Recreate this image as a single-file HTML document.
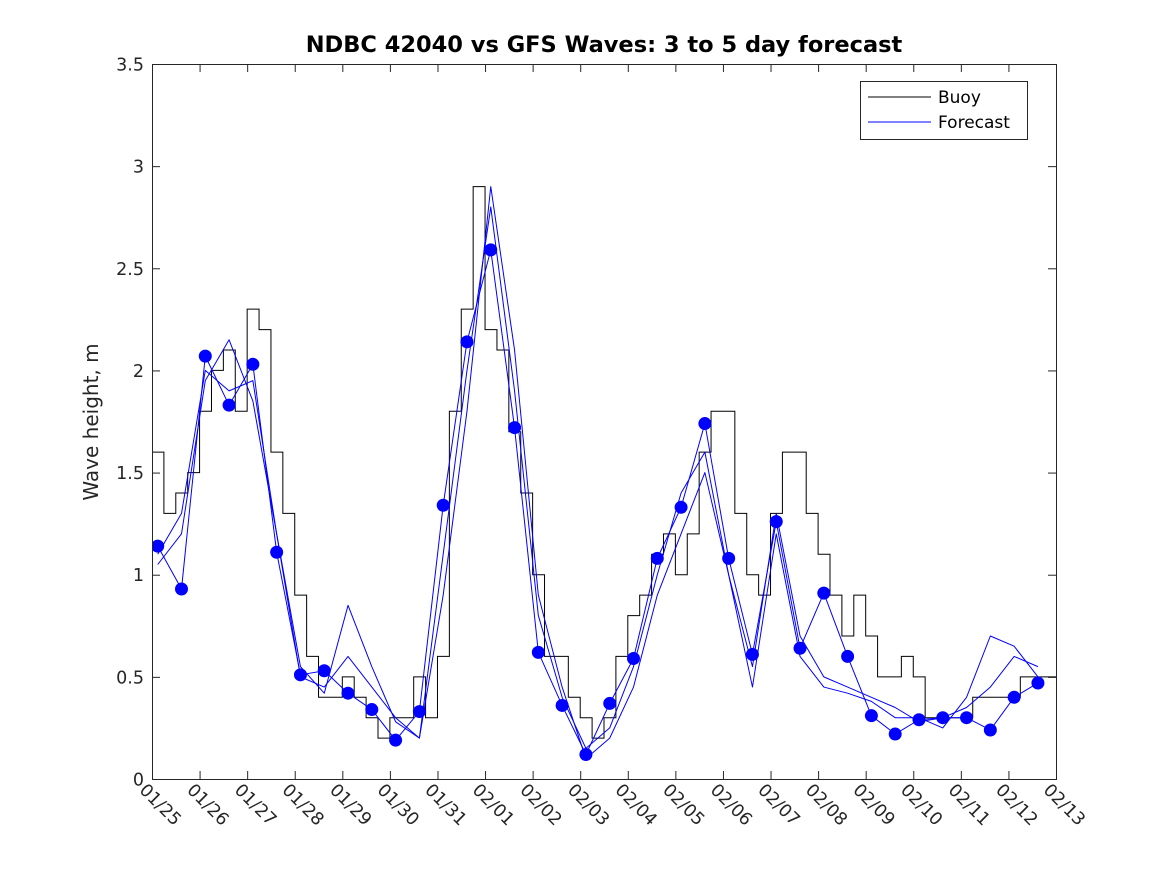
<!DOCTYPE html>
<html><head><meta charset="utf-8">
<style>body{margin:0;background:#fff}svg{display:block;font-family:"DejaVu Sans","Liberation Sans",sans-serif}</style>
</head><body>
<svg id="chart" width="1167" height="875" xmlns="http://www.w3.org/2000/svg">
<defs><clipPath id="clip"><rect x="152" y="64" width="905" height="716"/></clipPath></defs>
<rect width="1167" height="875" fill="#fff"/>
<text x="604" y="52" text-anchor="middle" font-size="22.5" font-weight="bold" fill="#000">NDBC 42040 vs GFS Waves: 3 to 5 day forecast</text>
<g id="grid"></g>
<g id="marks" clip-path="url(#clip)"></g>
<rect x="152.5" y="64.5" width="904" height="715" fill="none" stroke="#262626" stroke-width="1"/>
<text transform="translate(98,422) rotate(-90)" text-anchor="middle" font-size="20" fill="#262626">Wave height, m</text>
<g>
<rect x="860.5" y="81.5" width="167" height="58" fill="#fff" stroke="#262626"/>
<line x1="868" y1="97" x2="931" y2="97" stroke="#000"/>
<text x="938" y="103" font-size="17" fill="#000">Buoy</text>
<line x1="868" y1="122" x2="931" y2="122" stroke="#00f"/>
<text x="938" y="128" font-size="17" fill="#000">Forecast</text>
</g>
</svg>
<script>
const xTicks=["01/25","01/26","01/27","01/28","01/29","01/30","01/31","02/01","02/02","02/03","02/04","02/05","02/06","02/07","02/08","02/09","02/10","02/11","02/12","02/13"];
const yTicks=[0,0.5,1,1.5,2,2.5,3,3.5];
const buoyStep=0.25;
const buoy=[1.6,1.3,1.4,1.5,1.8,2.0,2.1,1.8,2.3,2.2,1.6,1.3,0.9,0.6,0.4,0.4,0.5,0.4,0.3,0.2,0.3,0.3,0.5,0.3,0.6,1.8,2.3,2.9,2.2,2.1,1.7,1.4,1.0,0.6,0.6,0.4,0.3,0.2,0.3,0.6,0.8,0.9,1.1,1.2,1.0,1.2,1.6,1.8,1.8,1.3,1.0,0.9,1.3,1.6,1.6,1.3,1.1,0.9,0.7,0.9,0.7,0.5,0.5,0.6,0.5,0.3,0.3,0.3,0.3,0.4,0.4,0.4,0.4,0.5,0.5,0.5];
const fcStart=0.12, fcStep=0.5;
const forecastDots=[1.14,0.93,2.07,1.83,2.03,1.11,0.51,0.53,0.42,0.34,0.19,0.33,1.34,2.14,2.59,1.72,0.62,0.36,0.12,0.37,0.59,1.08,1.33,1.74,1.08,0.61,1.26,0.64,0.91,0.60,0.31,0.22,0.29,0.30,0.30,0.24,0.40,0.47];
const forecastB=[1.05,1.2,1.95,2.15,1.85,1.2,0.5,0.45,0.6,0.45,0.3,0.2,1.1,2.0,2.8,1.9,0.8,0.4,0.15,0.25,0.55,1.0,1.4,1.6,1.0,0.55,1.3,0.7,0.5,0.45,0.4,0.35,0.28,0.3,0.35,0.45,0.6,0.55];
const forecastC=[1.1,1.3,2.0,1.9,1.95,1.2,0.55,0.42,0.85,0.55,0.28,0.2,0.9,1.8,2.9,2.1,0.9,0.45,0.1,0.2,0.45,0.9,1.2,1.5,1.0,0.45,1.2,0.6,0.45,0.42,0.38,0.3,0.3,0.25,0.4,0.7,0.65,0.5];
const NS='http://www.w3.org/2000/svg';
const X0=152,X1=1056,Y0=779,Y1=64;
function xs(d){return X0+d*(X1-X0)/19;}
function ys(v){return Y0-v*(Y0-Y1)/3.5;}
function mk(t,a,p){const e=document.createElementNS(NS,t);for(const k in a)e.setAttribute(k,a[k]);p.appendChild(e);return e;}
const grid=document.getElementById('grid'),marks=document.getElementById('marks');
xTicks.forEach((t,i)=>{const x=xs(i)+0.5;
 const l=mk('line',{x1:x,y1:Y0,x2:x,y2:Y0-8,stroke:'#262626'},grid);
 
 
 const l2=mk('line',{x1:x,y1:Y1,x2:x,y2:Y1+8,stroke:'#262626'},grid);
 
 
 const tx=mk('text',{x:0,y:0,'font-size':17.5,fill:'#262626',transform:`translate(${x-14},${Y0+12}) rotate(45)`},grid);
 tx.textContent=t;
 
 
});
yTicks.forEach(v=>{const y=ys(v)+0.5;
 const l=mk('line',{x1:X0,y1:y,x2:X0+8,y2:y,stroke:'#262626'},grid);
 
 
 const l2=mk('line',{x1:X1,y1:y,x2:X1-8,y2:y,stroke:'#262626'},grid);
 
 
 const tx=mk('text',{x:X0-8,y:y+6,'text-anchor':'end','font-size':17.5,fill:'#262626'},grid);
 tx.textContent=String(v);
 
 
});
let d='';buoy.forEach((v,i)=>{const x=xs(i*buoyStep),y=ys(v);d+=(i?`L${x},${y}`:`M${x},${y}`);d+=`L${xs((i+1)*buoyStep)},${y}`;});
const bp=mk('path',{d:d,fill:'none',stroke:'#000','stroke-width':1},marks);


[forecastB,forecastC,forecastDots].forEach((arr,k)=>{
 const p=arr.map((v,i)=>`${i?'L':'M'}${xs(fcStart+i*fcStep)},${ys(v)}`).join('');
 const e=mk('path',{d:p,fill:'none',stroke:'#00f','stroke-width':1,'stroke-linejoin':'round'},marks);
 
 
});
forecastDots.forEach((v,i)=>{
 const c=mk('circle',{cx:xs(fcStart+i*fcStep),cy:ys(v),r:6.5,fill:'#00f'},marks);
 
 
});
</script>
</body></html>
